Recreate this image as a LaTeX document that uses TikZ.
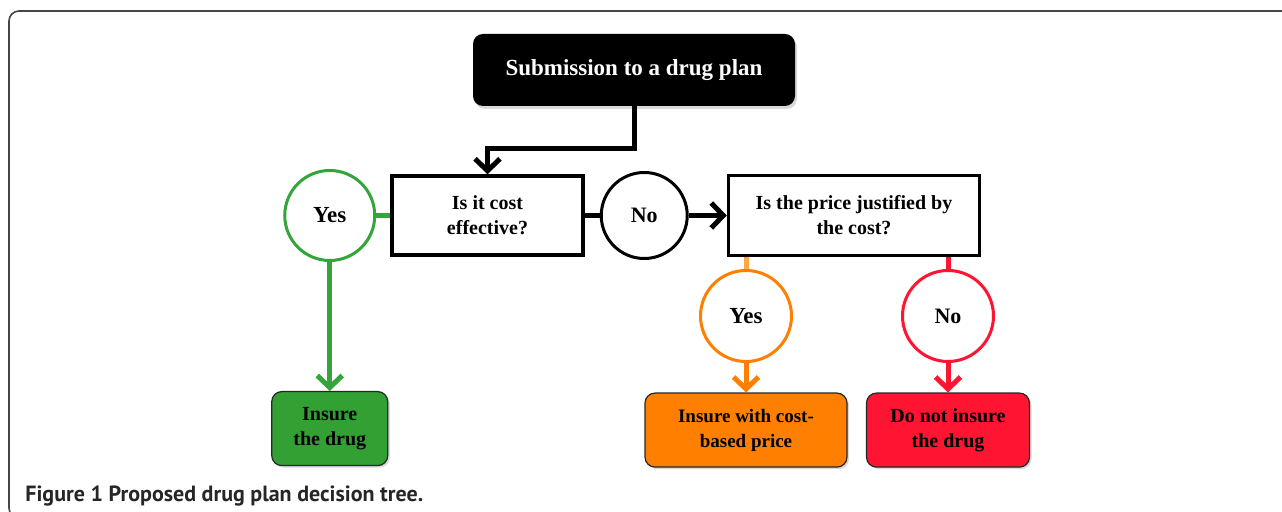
\documentclass[tikz,border=0pt]{standalone}
\usepackage{fontspec}
\setmainfont{Liberation Serif}
\newfontfamily\capfont{PT Sans}
\usetikzlibrary{arrows.meta,positioning,shadows}
\definecolor{yesgreen}{RGB}{52,165,58}
\definecolor{boxgreen}{RGB}{51,160,51}
\definecolor{yesorange}{RGB}{255,128,0}
\definecolor{nored}{RGB}{255,20,50}
\definecolor{framegray}{RGB}{70,70,70}

\begin{document}
\begin{tikzpicture}[
                        node distance=7pt,
                        font=\fontsize{10}{12.5}\selectfont\bfseries,
                        question/.style={rectangle, draw, line width=1.75pt, align=center, fill=white},
                        answer/.style={circle, draw, line width=1.5pt, minimum size=45pt, inner sep=0pt, fill=white,
                                       font=\fontsize{11.5}{13}\selectfont\bfseries},
                        outcome/.style={rectangle, rounded corners=5pt, draw=black!85, line width=0.6pt, align=center,
                                        minimum height=37pt, drop shadow={shadow xshift=1pt, shadow yshift=-1pt, opacity=0.3}},
                        flow/.style={line width=2.5pt, -{Straight Barb[length=6pt,width=12.5pt]}},
                        link/.style={line width=2.5pt}
                    ]
                    \useasboundingbox (0,0) rectangle (641pt,-256pt);
                    \clip (0,0) rectangle (641pt,-256pt);
                    % Frame and caption
                    \draw [framegray, line width=0.8pt, rounded corners=5pt] (645pt,-5.5pt) -- (4.5pt,-5.5pt) -- (4.5pt,-259pt) -- (20pt,-259pt);
                    \node [anchor=base west, inner sep=0pt, font=\capfont\fontsize{11}{13}\selectfont\bfseries, text=black!85] (caption) at (12.5pt,-251pt) {Figure 1 Proposed drug plan decision tree.};

                    % Blocks
                    \node [rectangle, rounded corners=5pt, fill=black, text=white, minimum width=161pt, minimum height=36pt,
                           font=\fontsize{11.5}{13}\selectfont\bfseries,
                           drop shadow={shadow xshift=1pt, shadow yshift=-1.5pt, opacity=0.3}] (submit) at (317pt,-35pt) {Submission to a drug plan};
                    \node [question, minimum width=95.5pt, minimum height=39.5pt] (cost) at (243.75pt,-107.75pt) {Is it cost\\effective?};
                    \node [answer, draw=yesgreen, left=7pt of cost] (yes1) {Yes};
                    \node [answer, minimum size=43pt, right=7.5pt of cost, font=\fontsize{11}{13}\selectfont\bfseries] (no1) {No};
                    \node [question, minimum width=125.5pt, minimum height=40pt, right=19pt of no1] (price) {Is the price justified by\\the cost?};
                    \node [answer, minimum size=45.5pt, draw=yesorange] (yes2) at (373pt,-158pt) {Yes};
                    \node [answer, minimum size=45.5pt, draw=nored, font=\fontsize{11}{13}\selectfont\bfseries] (no2) at (474pt,-158pt) {No};
                    \node [outcome, fill=boxgreen, minimum width=58pt, below=64.5pt of yes1] (insure) {Insure\\the drug};
                    \node [outcome, fill=yesorange, minimum width=101pt, below=14.75pt of yes2,
                           font=\fontsize{9.5}{12.5}\selectfont\bfseries] (costbased) {Insure with cost-\\based price};
                    \node [outcome, fill=nored, minimum width=81.5pt, below=14.75pt of no2] (noinsure) {Do not insure\\the drug};

                    % Connections
                    \draw [flow] (submit.south) -- ++(0,-21pt) -| (cost.north);
                    \draw [link, yesgreen] (cost) -- (yes1);
                    \draw [flow, yesgreen] (yes1) -- (insure);
                    \draw [link] (cost) -- (no1);
                    \draw [flow] (no1) -- (price);
                    \draw [link, yesorange!70] (price.south -| yes2) -- (yes2);
                    \draw [flow, yesorange] (yes2) -- (costbased);
                    \draw [link, nored] (price.south -| no2) -- (no2);
                    \draw [flow, nored] (no2) -- (noinsure);
                \end{tikzpicture}
\end{document}
